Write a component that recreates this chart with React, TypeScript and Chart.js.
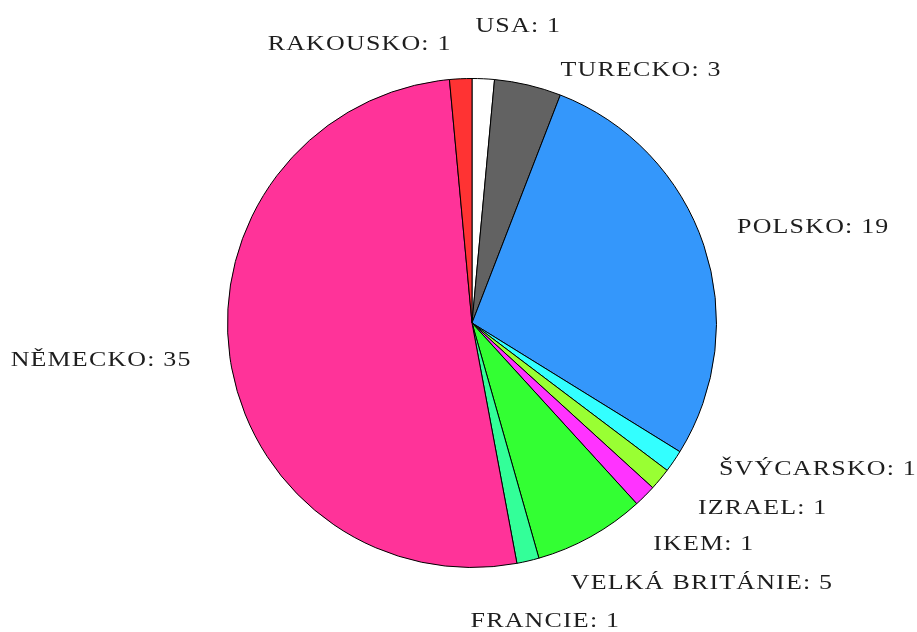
import React, { useEffect, useRef } from "react";
import { Chart, registerables } from "chart.js";

Chart.register(...registerables);

const categories = ["USA", "TURECKO", "POLSKO", "ŠVÝCARSKO", "IZRAEL", "IKEM", "VELKÁ BRITÁNIE", "FRANCIE", "NĚMECKO", "RAKOUSKO"];
const values = [1, 3, 19, 1, 1, 1, 5, 1, 35, 1];
const colors = ["#ffffff", "#626262", "#3497fb", "#33ffff", "#99ff33", "#ff33ff", "#33ff33", "#33ff99", "#ff3399", "#ff3333"];
// label nudges (px) from the default outside anchor, to avoid overlaps
const labelDx = [-9, 27, 10, 25, 19, -9, -32, -63, -14, -8];
const labelDy = [-28, 9, -10, -6, 13, 31, 25, 36, 0, -10];

const outsideLabels = {
  id: "outsideLabels",
  afterDatasetsDraw(chart: any) {
    const ctx = chart.ctx;
    const meta = chart.getDatasetMeta(0);
    meta.data.forEach((arc: any, i: number) => {
      const { x, y, startAngle, endAngle, outerRadius } = arc.getProps(["x", "y", "startAngle", "endAngle", "outerRadius"], true);
      const mid = (startAngle + endAngle) / 2;
      const r = outerRadius * 1.1;
      const ax = x + Math.cos(mid) * r;
      const ay = y + Math.sin(mid) * r;
      const right = Math.cos(mid) >= 0;
      ctx.save();
      ctx.font = "22px 'Liberation Serif'";
      (ctx as any).letterSpacing = "1px";
      ctx.fillStyle = "#1e1e1e";
      ctx.textBaseline = "middle";
      ctx.textAlign = right ? "left" : "right";
      ctx.translate(ax + labelDx[i], ay + labelDy[i]);
      ctx.scale(1.18, 1);
      ctx.fillText(`${categories[i]}: ${values[i]}`, 0, 0);
      ctx.restore();
    });
  },
};

export default function App() {
  const ref = useRef<HTMLCanvasElement>(null);
  useEffect(() => {
    document.body.style.margin = "0";
    const chart = new Chart(ref.current!, {
      type: "pie",
      data: {
        labels: categories,
        datasets: [
          {
            data: values,
            backgroundColor: colors,
            borderColor: "#000000",
            borderWidth: 1,
          },
        ],
      },
      options: {
        animation: false,
        responsive: false,
        events: [],
        layout: { padding: { top: 78, bottom: 64, left: 227, right: 200 } },
        plugins: { legend: { display: false }, tooltip: { enabled: false } },
      },
      plugins: [outsideLabels],
    });
    return () => chart.destroy();
  }, []);
  return (
    <div style={{ position: "absolute", left: 0, top: 0, width: 917, height: 632, background: "#fff" }}>
      <canvas ref={ref} width={917} height={632} style={{ display: "block" }} />
    </div>
  );
}
